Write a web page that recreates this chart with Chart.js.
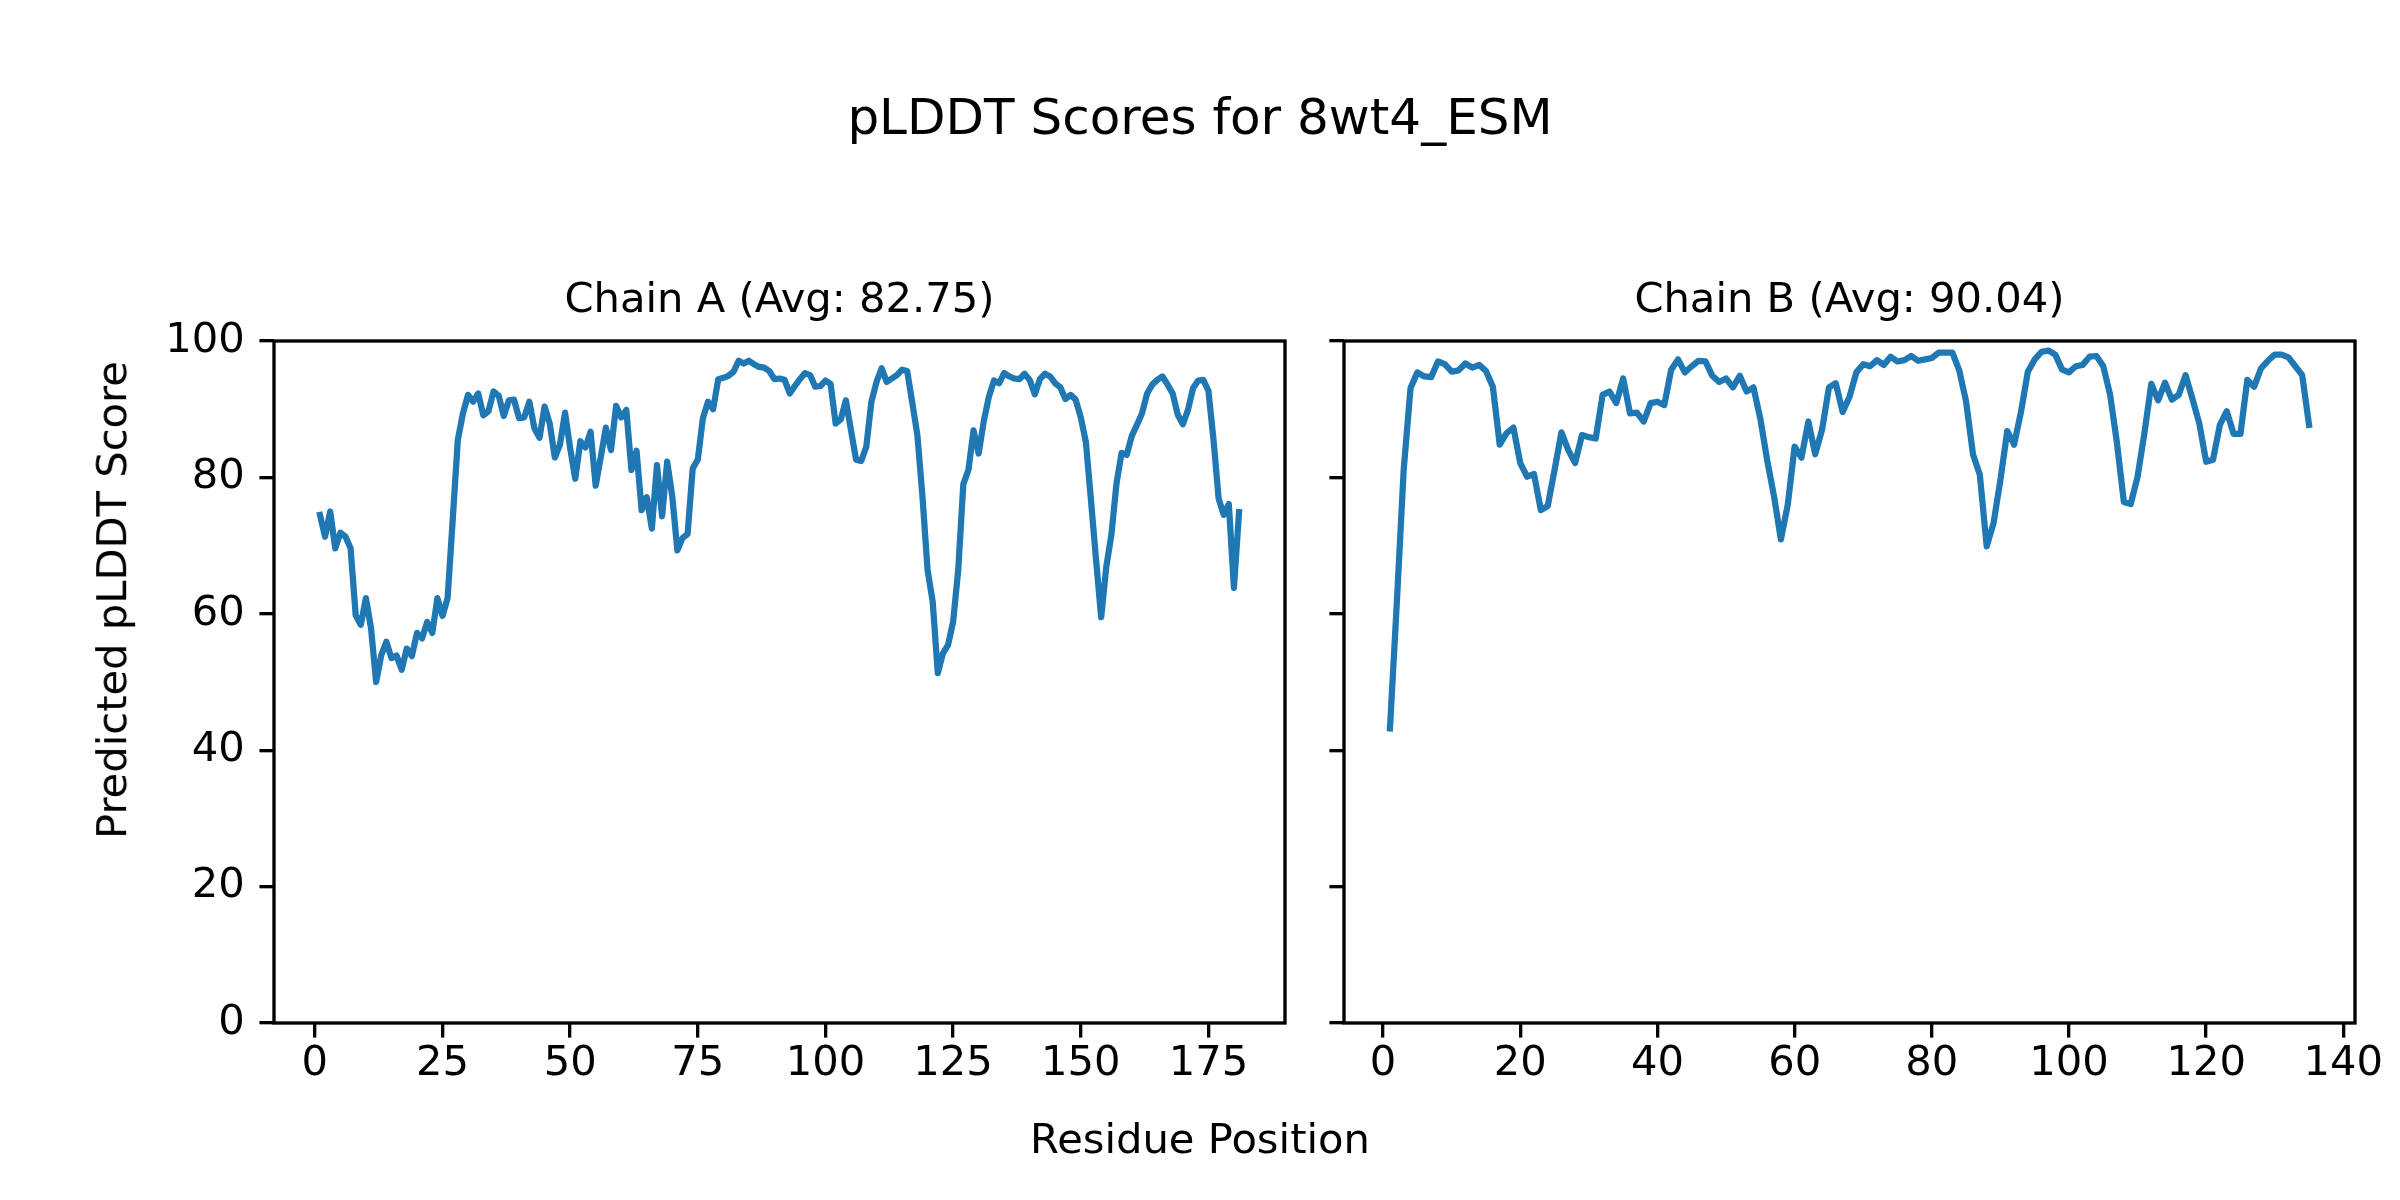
<!DOCTYPE html>
<html lang="es">
<head>
<meta charset="utf-8">
<title>pLDDT Scores for 8wt4_ESM</title>
<script src="https://cdn.jsdelivr.net/npm/chart.js@4.4.1/dist/chart.umd.min.js"></script>
<style>
  html, body { margin: 0; padding: 0; background: #fff; }
  #figura {
    position: relative;
    width: 2400px;
    height: 1200px;
    background: #fff;
    overflow: hidden;
    font-family: 'DejaVu Sans', sans-serif;
    color: #000;
  }
  canvas { position: absolute; top: 0; }
  #cadenaAChart { left: 0; width: 1314px; height: 1200px; }
  #cadenaBChart { left: 1314px; width: 1086px; height: 1200px; }
  .texto { position: absolute; white-space: nowrap; line-height: 1; }
  #titulo { left: 1200px; top: 92px; font-size: 50px; transform: translateX(-50%); }
  #etiquetaX { left: 1200px; top: 1118px; font-size: 41.67px; transform: translateX(-50%); }
  #etiquetaY { left: 112px; top: 600px; font-size: 41.67px; transform: translate(-50%, -50%) rotate(-90deg); }
</style>
</head>
<body>
<div id="figura">
  <div class="texto" id="titulo">pLDDT Scores for 8wt4_ESM</div>
  <canvas id="cadenaAChart" width="1314" height="1200"></canvas>
  <canvas id="cadenaBChart" width="1086" height="1200"></canvas>
  <div class="texto" id="etiquetaX">Residue Position</div>
  <div class="texto" id="etiquetaY">Predicted pLDDT Score</div>
</div>

<script>
// Datos (pLDDT por residuo, empezando en el residuo 1)
const puntuacionesA = [
  74.5, 71.3, 75.0, 69.6, 71.9, 71.3, 69.6, 59.8, 58.4, 62.3,
  57.9, 50.0, 53.9, 55.9, 53.5, 53.9, 51.8, 54.9, 53.8, 57.2,
  56.4, 58.8, 57.2, 62.3, 59.7, 62.3, 73.8, 85.5, 89.4, 92.1,
  91.1, 92.3, 89.1, 89.7, 92.6, 92.0, 89.0, 91.3, 91.4, 88.7,
  88.8, 91.1, 87.2, 85.8, 90.4, 87.9, 82.9, 84.8, 89.5, 84.3,
  79.8, 85.3, 84.4, 86.7, 78.8, 83.0, 87.3, 84.0, 90.5, 88.8,
  89.9, 81.1, 83.9, 75.2, 77.1, 72.5, 81.8, 74.3, 82.3, 77.2,
  69.3, 71.1, 71.7, 81.3, 82.6, 88.7, 91.1, 90.0, 94.4, 94.6,
  94.9, 95.5, 97.1, 96.7, 97.1, 96.6, 96.2, 96.1, 95.6, 94.4,
  94.5, 94.3, 92.3, 93.4, 94.4, 95.3, 95.0, 93.3, 93.4, 94.2,
  93.7, 87.9, 88.5, 91.3, 86.9, 82.6, 82.4, 84.5, 91.1, 94.0,
  96.0, 94.0, 94.5, 95.0, 95.8, 95.6, 91.0, 86.2, 77.2, 66.4,
  61.8, 51.3, 54.2, 55.4, 58.8, 66.4, 79.0, 81.1, 86.9, 83.5,
  88.2, 91.8, 94.2, 93.8, 95.3, 94.8, 94.5, 94.4, 95.2, 94.3,
  92.2, 94.4, 95.2, 94.8, 93.8, 93.2, 91.5, 92.1, 91.4, 88.8,
  85.2, 76.7, 67.9, 59.5, 66.9, 71.6, 79.1, 83.6, 83.3, 86.1,
  87.7, 89.4, 92.3, 93.6, 94.3, 94.8, 93.6, 92.3, 89.2, 87.8,
  89.9, 93.1, 94.2, 94.3, 92.7, 85.5, 76.9, 74.5, 76.1, 63.8,
  74.9
];

const puntuacionesB = [
  43.2, 61.6, 81.1, 93.1, 95.4, 94.8, 94.7, 97.0, 96.6, 95.5,
  95.7, 96.7, 96.1, 96.5, 95.6, 93.3, 84.8, 86.5, 87.3, 82.1,
  80.1, 80.5, 75.2, 75.8, 81.1, 86.6, 84.0, 82.1, 86.2, 85.9,
  85.7, 92.1, 92.6, 90.9, 94.5, 89.4, 89.5, 88.2, 90.9, 91.1,
  90.6, 95.8, 97.3, 95.4, 96.3, 97.1, 97.0, 94.9, 94.0, 94.5,
  93.2, 94.9, 92.6, 93.2, 88.6, 82.5, 77.2, 70.9, 76.0, 84.5,
  82.9, 88.2, 83.4, 87.0, 93.2, 93.8, 89.6, 91.8, 95.4, 96.6,
  96.3, 97.2, 96.5, 97.7, 97.0, 97.2, 97.8, 97.1, 97.3, 97.5,
  98.3, 98.3, 98.3, 95.7, 91.1, 83.4, 80.4, 69.9, 73.3, 79.6,
  86.8, 84.8, 89.6, 95.5, 97.3, 98.4, 98.6, 98.0, 95.8, 95.4,
  96.3, 96.5, 97.7, 97.8, 96.3, 92.1, 85.0, 76.4, 76.1, 80.1,
  86.5, 93.7, 91.3, 93.9, 91.4, 92.1, 95.0, 91.5, 87.9, 82.3,
  82.6, 87.7, 89.7, 86.4, 86.4, 94.3, 93.3, 96.0, 97.1, 98.0,
  98.0, 97.6, 96.3, 95.0, 87.7
];

const primerResiduo = 1;

// Ticks de cada eje
const ticksXA = [0, 25, 50, 75, 100, 125, 150, 175];
const ticksXB = [0, 20, 40, 60, 80, 100, 120, 140];
const ticksY = [0, 20, 40, 60, 80, 100];

// Títulos de cada panel
const tituloA = 'Chain A (Avg: 82.75)';
const tituloB = 'Chain B (Avg: 90.04)';

// Estilo tipo matplotlib
const colores = {
  linea: '#1f77b4',
  texto: '#000000',
  eje: '#000000'
};
const fuente = "'DejaVu Sans', sans-serif";
const tamTexto = 41.67;
const grosorEje = 3.33;
const largoTick = 14.6;

// Dibuja los cuatro lados del marco por encima de la línea
const marcoEjes = {
  id: 'marcoEjes',
  afterDatasetsDraw(chart) {
    const { ctx, chartArea: a } = chart;
    ctx.save();
    ctx.strokeStyle = colores.eje;
    ctx.lineWidth = grosorEje;
    ctx.strokeRect(a.left, a.top, a.right - a.left, a.bottom - a.top);
    ctx.restore();
  }
};

function aPuntos(valores) {
  return valores.map((v, i) => ({ x: primerResiduo + i, y: v }));
}

function crearGrafico(id, titulo, valores, xMin, xMax, ticksX, mostrarY, anchoEjeY, rellenoDerecho) {
  const ctx = document.getElementById(id).getContext('2d');
  return new Chart(ctx, {
    type: 'line',
    data: {
      datasets: [{
        data: aPuntos(valores),
        borderColor: colores.linea,
        borderWidth: 6.25,
        borderJoinStyle: 'round',
        borderCapStyle: 'square',
        pointRadius: 0,
        tension: 0,
        fill: false
      }]
    },
    options: {
      responsive: false,
      devicePixelRatio: 1,
      animation: false,
      layout: {
        padding: { top: 0, left: 0, right: rellenoDerecho, bottom: 77 }
      },
      plugins: {
        legend: { display: false },
        tooltip: { enabled: false },
        title: {
          display: true,
          text: titulo,
          fullSize: false,
          color: colores.texto,
          font: { family: fuente, size: tamTexto, weight: 'normal', lineHeight: 1.2 },
          padding: { top: 276.5, bottom: 14.5 }
        }
      },
      scales: {
        x: {
          type: 'linear',
          min: xMin,
          max: xMax,
          afterBuildTicks: function(escala) {
            escala.ticks = ticksX.map(v => ({ value: v }));
          },
          afterFit: function(escala) {
            escala.height = 100;
          },
          border: { display: false },
          grid: {
            drawOnChartArea: false,
            drawTicks: true,
            tickLength: largoTick,
            tickWidth: grosorEje,
            tickColor: colores.eje,
            color: colores.eje,
            lineWidth: grosorEje
          },
          ticks: {
            autoSkip: false,
            maxRotation: 0,
            padding: 2,
            color: colores.texto,
            font: { family: fuente, size: tamTexto },
            callback: function(value) {
              return String(value);
            }
          }
        },
        y: {
          type: 'linear',
          min: 0,
          max: 100,
          afterBuildTicks: function(escala) {
            escala.ticks = ticksY.map(v => ({ value: v }));
          },
          afterFit: function(escala) {
            escala.width = anchoEjeY;
          },
          border: { display: false },
          grid: {
            drawOnChartArea: false,
            drawTicks: true,
            tickLength: largoTick,
            tickWidth: grosorEje,
            tickColor: colores.eje,
            color: colores.eje,
            lineWidth: grosorEje
          },
          ticks: {
            display: mostrarY,
            padding: 14.6,
            color: colores.texto,
            font: { family: fuente, size: tamTexto },
            callback: function(value) {
              return String(value);
            }
          }
        }
      }
    },
    plugins: [marcoEjes]
  });
}

document.addEventListener('DOMContentLoaded', function() {
  // Panel izquierdo: cadena A
  crearGrafico('cadenaAChart', tituloA, puntuacionesA, -8, 190, ticksXA, true, 274, 29);
  // Panel derecho: cadena B (comparte eje Y, sin etiquetas)
  crearGrafico('cadenaBChart', tituloB, puntuacionesB, -5.7, 141.7, ticksXB, false, 30, 45);
});
</script>
</body>
</html>
